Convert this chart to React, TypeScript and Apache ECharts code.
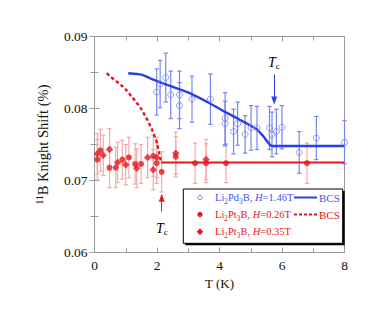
import React, { useEffect, useRef } from "react";
import * as echarts from "echarts";

// Li2Pd3B, H=1.46T
const pd3Temp = [1.99, 2.10, 2.28, 2.44, 2.72, 2.72, 3.12, 3.71, 4.18, 4.18, 4.45, 4.58, 4.82, 5.01, 5.20, 5.60, 5.68, 5.82, 6.00, 6.55, 7.10, 8.00];
const pd3Shift = [0.0823, 0.0834, 0.0843, 0.0819, 0.0819, 0.0804, 0.0813, 0.0813, 0.0786, 0.0779, 0.0768, 0.0779, 0.0764, 0.0773, 0.0773, 0.0773, 0.0764, 0.0768, 0.0774, 0.0739, 0.0759, 0.0753];
const pd3Err = [0.0032, 0.0033, 0.0034, 0.0033, 0.0033, 0.0032, 0.0032, 0.0035, 0.0036, 0.0031, 0.0031, 0.0030, 0.0026, 0.0031, 0.0030, 0.0030, 0.0031, 0.0031, 0.0030, 0.0029, 0.0030, 0.0030];

// Li2Pt3B, H=0.26T
const pt26Temp = [0.09, 0.19, 0.48, 0.68, 0.89, 1.10, 1.30, 1.49, 1.88, 1.99, 2.15, 2.60, 3.22, 3.57, 4.21, 6.80];
const pt26Shift = [0.0729, 0.0742, 0.0718, 0.0718, 0.0729, 0.0732, 0.0723, 0.0723, 0.0734, 0.0724, 0.0712, 0.0733, 0.0724, 0.0724, 0.0724, 0.0724];
const pt26Err = [0.0028, 0.0029, 0.0028, 0.0028, 0.0027, 0.0028, 0.0028, 0.0027, 0.0028, 0.0028, 0.0028, 0.0028, 0.0028, 0.0027, 0.0027, 0.0028];

// Li2Pt3B, H=0.35T
const pt35Temp = [0.09, 0.28, 0.48, 0.74, 1.00, 1.35, 1.70, 1.88, 1.99, 2.60, 3.57];
const pt35Shift = [0.0737, 0.0735, 0.0743, 0.0725, 0.0722, 0.0717, 0.0732, 0.0715, 0.0732, 0.0738, 0.0729];
const pt35Err = [0.0028, 0.0028, 0.0029, 0.0028, 0.0028, 0.0027, 0.0028, 0.0028, 0.0028, 0.0029, 0.0028];

// BCS curves
const bcsPdTemp = [1.08, 1.5, 1.78, 2.31, 3.06, 3.70, 4.02, 4.45, 4.88, 5.20, 5.41, 5.68, 8.0];
const bcsPdShift = [0.0849, 0.0847, 0.0842, 0.0833, 0.0821, 0.0807, 0.0799, 0.0789, 0.0779, 0.0771, 0.0761, 0.0748, 0.0748];
const bcsPtTemp = [0.39, 0.60, 0.82, 1.03, 1.24, 1.46, 1.67, 1.83, 1.99, 2.05, 2.13];
const bcsPtShift = [0.0849, 0.0841, 0.0834, 0.0825, 0.0814, 0.0802, 0.0786, 0.0772, 0.0754, 0.0742, 0.0726];
const ptNormalTemp = [2.13, 8.0];
const ptNormalShift = [0.0725, 0.0725];

// Tc markers
const tcPd = 5.75;
const tcPt = 2.15;

const xTicks = [0, 2, 4, 6, 8];
const yTicks = [0.06, 0.07, 0.08, 0.09];

const BLUE = "#2a3fe6";
const BLUE_LIGHT = "#7886f2";
const RED = "#e8161c";
const RED_LIGHT = "#f6a9a9";
const FONT = "Liberation Serif";

const zip = (a: number[], b: number[]) => a.map((v, i) => [v, b[i]]);
const zip3 = (a: number[], b: number[], c: number[]) => a.map((v, i) => [v, b[i], c[i]]);

function errorBars(data: number[][], color: string, z: number) {
  return {
    type: "custom",
    z,
    silent: true,
    encode: { x: 0, y: 1 },
    data,
    renderItem: (params: any, api: any) => {
      const x = api.value(0);
      const y = api.value(1);
      const e = api.value(2);
      const top = api.coord([x, y + e]);
      const bot = api.coord([x, y - e]);
      const w = 2.2;
      const style = { stroke: color, lineWidth: 1.2, fill: "none" };
      return {
        type: "group",
        children: [
          { type: "line", shape: { x1: top[0], y1: top[1], x2: bot[0], y2: bot[1] }, style },
          { type: "line", shape: { x1: top[0] - w, y1: top[1], x2: top[0] + w, y2: top[1] }, style },
          { type: "line", shape: { x1: bot[0] - w, y1: bot[1], x2: bot[0] + w, y2: bot[1] }, style },
        ],
      };
    },
  };
}

const subRich = (color: string, size: number) => ({
  n: { fontFamily: FONT, fontSize: size, color, lineHeight: 14, verticalAlign: "middle" },
  i: { fontFamily: FONT, fontSize: size, color, fontStyle: "italic", lineHeight: 14, verticalAlign: "middle" },
  s: { fontFamily: FONT, fontSize: size * 0.7, color, verticalAlign: "bottom", lineHeight: 14 },
});

export default function App() {
  const ref = useRef<HTMLDivElement>(null);
  useEffect(() => {
    if (!ref.current) return;
    const chart = echarts.init(ref.current, undefined, { renderer: "svg" });
    const axisGray = "#9a9a9a";
    const lx = 183.3, ly = 189, lw = 159.4, lh = 54.3;
    const rows = [197.5, 214.5, 231.7];
    const legendText = (y: number, txt: string, color: string) => ({
      type: "text",
      x: 215,
      y,
      z: 102,
      style: {
        text: txt,
        rich: subRich(color, 10.5),
        fill: color,
        verticalAlign: "middle",
        align: "left",
      },
    });
    chart.setOption({
      animation: false,
      grid: { left: 94.5, right: 29.5, top: 36.5, bottom: 56.5, show: true, borderColor: axisGray, borderWidth: 1 },
      xAxis: [
        {
          type: "value",
          min: 0,
          max: 8,
          interval: 2,
          name: "T (K)",
          nameLocation: "middle",
          nameGap: 24,
          nameTextStyle: { fontFamily: FONT, fontSize: 13, color: "#111" },
          axisLine: { show: true, lineStyle: { color: axisGray } },
          axisTick: { inside: true, length: 5, lineStyle: { color: axisGray } },
          minorTick: { show: true, splitNumber: 2, length: 4, lineStyle: { color: axisGray } },
          splitLine: { show: false },
          axisLabel: {
            fontFamily: FONT,
            fontSize: 13.5,
            color: "#111",
            margin: 6,
            formatter: (v: number) => (xTicks.includes(v) ? String(v) : ""),
          },
        },
        {
          type: "value",
          position: "top",
          min: 0,
          max: 8,
          interval: 2,
          axisLine: { show: true, lineStyle: { color: axisGray } },
          axisTick: { inside: true, length: 5, lineStyle: { color: axisGray } },
          minorTick: { show: true, splitNumber: 2, length: 4, lineStyle: { color: axisGray } },
          splitLine: { show: false },
          axisLabel: { show: false },
        },
      ],
      yAxis: [
        {
          type: "value",
          min: 0.06,
          max: 0.09,
          interval: 0.01,
          name: "{sup|11}{n|B Knight Shift (%)}",
          nameLocation: "middle",
          nameGap: 44,
          nameRotate: 90,
          nameTextStyle: {
            rich: {
              n: { fontFamily: FONT, fontSize: 14.5, color: "#111", lineHeight: 16, verticalAlign: "middle" },
              sup: { fontFamily: FONT, fontSize: 9.5, color: "#111", lineHeight: 16, verticalAlign: "top" },
            },
          },
          axisLine: { show: true, lineStyle: { color: axisGray } },
          axisTick: { inside: true, length: 5, lineStyle: { color: axisGray } },
          minorTick: { show: true, splitNumber: 2, length: 4, lineStyle: { color: axisGray } },
          splitLine: { show: false },
          axisLabel: {
            fontFamily: FONT,
            fontSize: 13.5,
            color: "#111",
            margin: 7,
            formatter: (v: number) => {
              const t = yTicks.find((k) => Math.abs(k - v) < 1e-9);
              return t !== undefined ? t.toFixed(2) : "";
            },
          },
        },
        {
          type: "value",
          position: "right",
          min: 0.06,
          max: 0.09,
          interval: 0.01,
          axisLine: { show: true, lineStyle: { color: axisGray } },
          axisTick: { inside: true, length: 5, lineStyle: { color: axisGray } },
          minorTick: { show: true, splitNumber: 2, length: 4, lineStyle: { color: axisGray } },
          splitLine: { show: false },
          axisLabel: { show: false },
        },
      ],
      series: [
        errorBars(zip3(pt26Temp, pt26Shift, pt26Err), RED_LIGHT, 1),
        errorBars(zip3(pt35Temp, pt35Shift, pt35Err), RED_LIGHT, 1),
        errorBars(zip3(pd3Temp, pd3Shift, pd3Err), BLUE_LIGHT, 2),
        {
          type: "line",
          data: zip(ptNormalTemp, ptNormalShift),
          showSymbol: false,
          symbol: "none",
          z: 3,
          lineStyle: { color: RED, width: 1.8 },
        },
        {
          type: "line",
          data: zip(bcsPtTemp, bcsPtShift),
          symbol: "none",
          z: 3,
          lineStyle: { color: RED, width: 2.4, type: [3.5, 2.5] },
          markLine: {
            silent: true,
            symbol: ["none", "triangle"],
            symbolSize: [6, 8],
            label: { show: false },
            lineStyle: { color: RED, width: 1, type: "solid" },
            data: [[{ coord: [tcPt, 0.0657] }, { coord: [tcPt, 0.0676] }]],
          },
        },
        {
          type: "line",
          data: zip(bcsPdTemp, bcsPdShift),
          symbol: "none",
          smooth: 0.2,
          z: 4,
          lineStyle: { color: BLUE, width: 2.4 },
          markLine: {
            silent: true,
            symbol: ["none", "triangle"],
            symbolSize: [6, 8],
            label: { show: false },
            lineStyle: { color: BLUE, width: 1, type: "solid" },
            data: [[{ coord: [tcPd, 0.0847] }, { coord: [tcPd, 0.0811] }]],
          },
        },
        {
          type: "scatter",
          data: zip(pd3Temp, pd3Shift),
          symbol: "circle",
          symbolSize: 6,
          z: 5,
          itemStyle: { color: "rgba(0,0,0,0)", borderColor: BLUE_LIGHT, borderWidth: 1 },
        },
        {
          type: "scatter",
          data: zip(pt26Temp, pt26Shift),
          symbol: "circle",
          symbolSize: 6,
          z: 5,
          itemStyle: { color: RED },
        },
        {
          type: "scatter",
          data: zip(pt35Temp, pt35Shift),
          symbol: "diamond",
          symbolSize: 7.5,
          z: 5,
          itemStyle: { color: RED },
        },
      ],
      graphic: [
        {
          type: "text",
          x: 268,
          y: 62,
          style: {
            text: "{t|T}{s|c}",
            rich: {
              t: { fontFamily: FONT, fontSize: 14, fontStyle: "italic", color: BLUE, lineHeight: 16, verticalAlign: "middle" },
              s: { fontFamily: FONT, fontSize: 9, color: BLUE, lineHeight: 16, verticalAlign: "bottom" },
            },
            verticalAlign: "middle",
          },
        },
        {
          type: "text",
          x: 156,
          y: 228,
          style: {
            text: "{t|T}{s|c}",
            rich: {
              t: { fontFamily: FONT, fontSize: 14, fontStyle: "italic", color: RED, lineHeight: 16, verticalAlign: "middle" },
              s: { fontFamily: FONT, fontSize: 9, color: RED, lineHeight: 16, verticalAlign: "bottom" },
            },
            verticalAlign: "middle",
          },
        },
        { type: "rect", shape: { x: lx + 2, y: ly + 2, width: lw, height: lh }, style: { fill: "#000" }, z: 100 },
        { type: "rect", shape: { x: lx, y: ly, width: lw, height: lh }, style: { fill: "#fff", stroke: "#000", lineWidth: 1 }, z: 101 },
        { type: "circle", z: 102, shape: { cx: 200, cy: rows[0], r: 2.2 }, style: { fill: "none", stroke: BLUE_LIGHT, lineWidth: 1 } },
        { type: "circle", z: 102, shape: { cx: 200, cy: rows[1], r: 2.6 }, style: { fill: RED } },
        {
          type: "polygon",
          z: 102,
          shape: { points: [[200, rows[2] - 3.5], [203.2, rows[2]], [200, rows[2] + 3.5], [196.8, rows[2]]] },
          style: { fill: RED },
        },
        legendText(rows[0], "{n|Li}{s|2}{n|Pd}{s|3}{n|B, }{i|H}{n|=1.46T}", "#3f52ee"),
        legendText(rows[1], "{n|Li}{s|2}{n|Pt}{s|3}{n|B, }{i|H}{n|=0.26T}", RED),
        legendText(rows[2], "{n|Li}{s|2}{n|Pt}{s|3}{n|B, }{i|H}{n|=0.35T}", RED),
        { type: "line", z: 102, shape: { x1: 294, y1: rows[0], x2: 317, y2: rows[0] }, style: { stroke: BLUE, lineWidth: 2 } },
        { type: "line", z: 102, shape: { x1: 294, y1: rows[1], x2: 317, y2: rows[1] }, style: { stroke: RED, lineWidth: 2, lineDash: [3, 2] } },
        { type: "text", z: 102, x: 319, y: rows[0], style: { text: "BCS", fontFamily: FONT, fontSize: 11, fill: "#3f52ee", verticalAlign: "middle" } },
        { type: "text", z: 102, x: 319, y: rows[1], style: { text: "BCS", fontFamily: FONT, fontSize: 11, fill: RED, verticalAlign: "middle" } },
      ],
    });
    return () => chart.dispose();
  }, []);
  return <div ref={ref} style={{ width: 374, height: 309, position: "absolute", left: 0, top: 0 }} />;
}
